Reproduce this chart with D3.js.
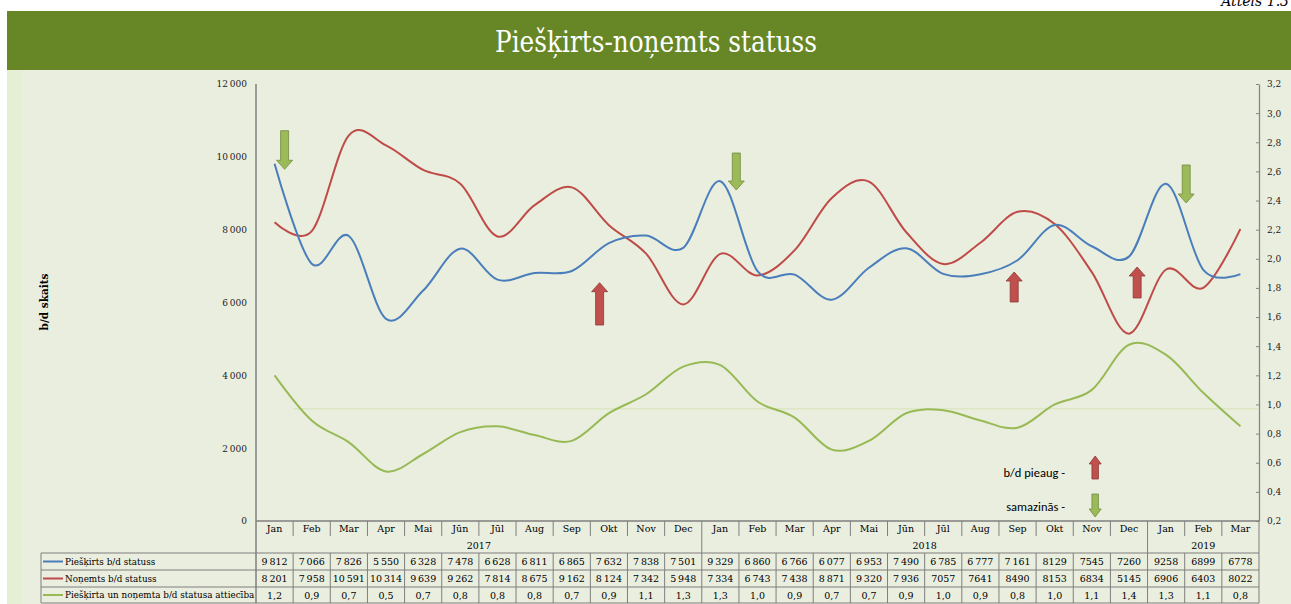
<!DOCTYPE html>
<html>
<head>
<meta charset="utf-8">
<script src="https://cdn.jsdelivr.net/npm/d3@7"></script>
<style>
body { margin: 0; background: #fff; }
svg { display: block; }
</style>
</head>
<body>
<svg width="1291" height="604"></svg>
<script>
"use strict";

// month / year categories
var months = ["Jan", "Feb", "Mar", "Apr", "Mai", "Jūn", "Jūl", "Aug", "Sep", "Okt", "Nov", "Dec",
              "Jan", "Feb", "Mar", "Apr", "Mai", "Jūn", "Jūl", "Aug", "Sep", "Okt", "Nov", "Dec",
              "Jan", "Feb", "Mar"];
var yearLabels = ["2017", "2018", "2019"];
var yearMonths = [12, 12, 3];

// series
var granted = [9812, 7066, 7826, 5550, 6328, 7478, 6628, 6811, 6865, 7632, 7838, 7501,
               9329, 6860, 6766, 6077, 6953, 7490, 6785, 6777, 7161, 8129, 7545, 7260,
               9258, 6899, 6778];
var removed = [8201, 7958, 10591, 10314, 9639, 9262, 7814, 8675, 9162, 8124, 7342, 5948,
               7334, 6743, 7438, 8871, 9320, 7936, 7057, 7641, 8490, 8153, 6834, 5145,
               6906, 6403, 8022];
var ratio = [1.2, 0.89, 0.74, 0.54, 0.66, 0.81, 0.85, 0.79, 0.75, 0.94, 1.07, 1.26,
             1.27, 1.02, 0.91, 0.69, 0.75, 0.94, 0.96, 0.89, 0.84, 1.0, 1.1, 1.41,
             1.34, 1.08, 0.85];
var ratioLabels = ["1,2", "0,9", "0,7", "0,5", "0,7", "0,8", "0,8", "0,8", "0,7", "0,9", "1,1", "1,3",
                   "1,3", "1,0", "0,9", "0,7", "0,7", "0,9", "1,0", "0,9", "0,8", "1,0", "1,1", "1,4",
                   "1,3", "1,1", "0,8"];
var ratioRefLine = 0.97;

var seriesNames = ["Piešķirts b/d statuss", "Noņemts b/d statuss", "Piešķirta un noņemta b/d statusa attiecība"];
var leftTicks = [0, 2000, 4000, 6000, 8000, 10000, 12000];
var rightTicks = [0.2, 0.4, 0.6, 0.8, 1.0, 1.2, 1.4, 1.6, 1.8, 2.0, 2.2, 2.4, 2.6, 2.8, 3.0, 3.2];
// table cells print without thousands separator from these indexes on
var grantedPlainFrom = 21, removedPlainFrom = 18;

var colors = ["#4a7ebb", "#be4b48", "#98b954"];
var serif = "'DejaVu Serif', serif";
var sans = "Carlito, Lato, 'Open Sans', sans-serif";

var svg = d3.select("svg");

var lv = d3.formatLocale({ decimal: ",", thousands: "\u2009", grouping: [3], currency: ["", ""] });
var fmtThousands = lv.format(",d"),
    fmtDec = lv.format(",.1f");

// background panel + title bar
svg.append("rect").attr("x", 7).attr("y", 11).attr("width", 1284).attr("height", 593).attr("fill", "#eaeedf");
svg.append("rect").attr("x", 7).attr("y", 70).attr("width", 14).attr("height", 534).attr("fill", "#e5efd6");
svg.append("rect").attr("x", 7).attr("y", 11).attr("width", 1284).attr("height", 59).attr("fill", "#678727");

svg.append("text")
    .attr("x", 495).attr("y", 52)
    .attr("fill", "#fff")
    .attr("textLength", 322)
    .attr("lengthAdjust", "spacingAndGlyphs")
    .style("font-family", serif)
    .style("font-size", "30px")
    .text("Piešķirts-noņemts statuss");

svg.append("text")
    .attr("x", 1289).attr("y", 6)
    .attr("text-anchor", "end")
    .attr("fill", "#000")
    .style("font-family", serif)
    .style("font-style", "italic")
    .style("font-size", "14px")
    .text("Attēls 1.3");

var plot = { left: 256, right: 1259, top: 84, bottom: 521 };
var tableLeft = 41,
    rowTops = [553, 570, 587, 603];

var x = d3.scaleBand().domain(d3.range(months.length)).range([plot.left, plot.right]).padding(0);
var xc = function (i) { return x.range()[0] + (i + 0.5) * x.step(); };
var yLeft = d3.scaleLinear().domain([0, 12000]).range([plot.bottom, plot.top]);
var yRight = d3.scaleLinear().domain([0.2, 3.2]).range([plot.bottom, plot.top]);

// axes
var gLeft = svg.append("g")
    .attr("transform", "translate(" + plot.left + ",0)")
    .call(d3.axisLeft(yLeft).tickValues(leftTicks).tickFormat(fmtThousands).tickSize(0).tickPadding(9));
gLeft.select(".domain").remove();

var gRight = svg.append("g")
    .attr("transform", "translate(" + plot.right + ",0)")
    .call(d3.axisRight(yRight).tickValues(rightTicks).tickFormat(fmtDec).tickSizeInner(-3).tickSizeOuter(0).tickPadding(8));
gRight.select(".domain").attr("stroke", "#868686").attr("stroke-width", 1.3);
gRight.selectAll(".tick line").attr("stroke", "#868686");

svg.selectAll(".tick text")
    .attr("fill", "#1a1a1a")
    .style("font-family", serif)
    .style("font-size", "9px");

svg.append("text")
    .attr("transform", "translate(48,302) rotate(-90)")
    .attr("text-anchor", "middle")
    .style("font-family", serif)
    .style("font-size", "10.5px")
    .style("font-weight", "bold")
    .text("b/d skaits");

// reference line for ratio
svg.append("line")
    .attr("x1", x(1)).attr("x2", plot.right)
    .attr("y1", yRight(ratioRefLine)).attr("y2", yRight(ratioRefLine))
    .attr("stroke", "#d6e3b5").attr("stroke-width", 1);

// lines
var curve = d3.curveCatmullRom.alpha(0);
var lineLeft = d3.line()
    .x(function (d, i) { return xc(i); })
    .y(function (d) { return yLeft(d); })
    .curve(curve);
var lineRight = d3.line()
    .x(function (d, i) { return xc(i); })
    .y(function (d) { return yRight(d); })
    .curve(curve);

svg.append("path").datum(ratio).attr("d", lineRight)
    .attr("fill", "none").attr("stroke", colors[2]).attr("stroke-width", 2);
svg.append("path").datum(removed).attr("d", lineLeft)
    .attr("fill", "none").attr("stroke", colors[1]).attr("stroke-width", 2);
svg.append("path").datum(granted).attr("d", lineLeft)
    .attr("fill", "none").attr("stroke", colors[0]).attr("stroke-width", 2);

// arrows
function arrowPath(cx, tail, tip, sw, hw, hh) {
    var dir = tip > tail ? 1 : -1;
    var neck = tip - dir * hh;
    return "M" + (cx - sw / 2) + "," + tail + "L" + (cx + sw / 2) + "," + tail +
        "L" + (cx + sw / 2) + "," + neck + "L" + (cx + hw / 2) + "," + neck +
        "L" + cx + "," + tip + "L" + (cx - hw / 2) + "," + neck +
        "L" + (cx - sw / 2) + "," + neck + "Z";
}

var arrows = [
    { kind: "down", i: 0.27, tail: 10718, tip: 9658, big: true },
    { kind: "down", i: 12.43, tail: 10105, tip: 9089, big: true },
    { kind: "down", i: 24.54, tail: 9776, tip: 8732, big: true },
    { kind: "up", i: 8.75, tail: 5382, tip: 6544, big: true },
    { kind: "up", i: 19.91, tail: 6014, tip: 6837, big: true },
    { kind: "up", i: 23.22, tail: 6124, tip: 6975, big: true },
    { kind: "up", i: 22.09, tail: 1153, tip: 1785, big: false },
    { kind: "down", i: 22.09, tail: 741, tip: 110, big: false }
];

svg.selectAll(".arrow")
    .data(arrows)
    .enter().append("path")
    .attr("class", "arrow")
    .attr("d", function (a) {
        return a.big ? arrowPath(xc(a.i), yLeft(a.tail), yLeft(a.tip), 8, 16, 9)
                     : arrowPath(xc(a.i), yLeft(a.tail), yLeft(a.tip), 6.5, 12, 8);
    })
    .attr("fill", function (a) { return a.kind === "down" ? "#9bbb59" : "#c0504d"; })
    .attr("stroke", function (a) { return a.kind === "down" ? "#72893f" : "#8c3836"; })
    .attr("stroke-width", 0.8);

svg.append("text")
    .attr("x", 1065).attr("y", 477)
    .attr("text-anchor", "end")
    .style("font-family", sans)
    .style("font-size", "12.5px")
    .text("b/d pieaug -");
svg.append("text")
    .attr("x", 1065).attr("y", 511)
    .attr("text-anchor", "end")
    .style("font-family", sans)
    .style("font-size", "12.5px")
    .text("samazinās -");

// data table
var grid = svg.append("g").attr("stroke", "#7f7f7f").attr("stroke-width", 1);

grid.append("line").attr("x1", plot.left).attr("x2", plot.right)
    .attr("y1", plot.bottom).attr("y2", plot.bottom).attr("stroke-width", 1.5);
grid.append("line").attr("x1", plot.left).attr("x2", plot.left)
    .attr("y1", plot.top).attr("y2", rowTops[3]).attr("stroke-width", 1.5);
grid.append("line").attr("x1", plot.right).attr("x2", plot.right)
    .attr("y1", plot.bottom).attr("y2", rowTops[3]);
grid.append("line").attr("x1", tableLeft).attr("x2", tableLeft)
    .attr("y1", rowTops[0]).attr("y2", rowTops[3]);

rowTops.forEach(function (ry) {
    grid.append("line").attr("x1", tableLeft).attr("x2", plot.right).attr("y1", ry).attr("y2", ry);
});

var yearStarts = [0, 12, 24];
d3.range(1, months.length).forEach(function (i) {
    var bx = x(i);
    var isYear = yearStarts.indexOf(i) >= 0;
    grid.append("line").attr("x1", bx).attr("x2", bx)
        .attr("y1", plot.bottom).attr("y2", isYear ? rowTops[0] : 536);
    grid.append("line").attr("x1", bx).attr("x2", bx)
        .attr("y1", rowTops[0]).attr("y2", rowTops[3]);
});

var txt = svg.append("g")
    .style("font-family", serif)
    .style("font-size", "9.5px")
    .attr("fill", "#000")
    .attr("text-anchor", "middle");

months.forEach(function (m, i) {
    txt.append("text").attr("x", xc(i)).attr("y", 532).text(m);
});

var start = 0;
yearLabels.forEach(function (yl, k) {
    var mid = (x(start) + x(start + yearMonths[k] - 1) + x.bandwidth()) / 2;
    txt.append("text").attr("x", mid).attr("y", 549).text(yl);
    start += yearMonths[k];
});

function cellText(v, plainFrom, i) {
    return i >= plainFrom ? String(v) : fmtThousands(v);
}

var rows = [
    granted.map(function (v, i) { return cellText(v, grantedPlainFrom, i); }),
    removed.map(function (v, i) { return cellText(v, removedPlainFrom, i); }),
    ratioLabels
];

rows.forEach(function (row, r) {
    var cy = (rowTops[r] + rowTops[r + 1]) / 2;
    row.forEach(function (t, i) {
        txt.append("text").attr("x", xc(i)).attr("y", cy + 3.5).text(t);
    });
    svg.append("line")
        .attr("x1", tableLeft + 2).attr("x2", tableLeft + 22)
        .attr("y1", cy).attr("y2", cy)
        .attr("stroke", colors[r]).attr("stroke-width", 2);
    svg.append("text")
        .attr("x", tableLeft + 24).attr("y", cy + 3.2)
        .style("font-family", serif)
        .style("font-size", "8.8px")
        .text(seriesNames[r]);
});
</script>
</body>
</html>
